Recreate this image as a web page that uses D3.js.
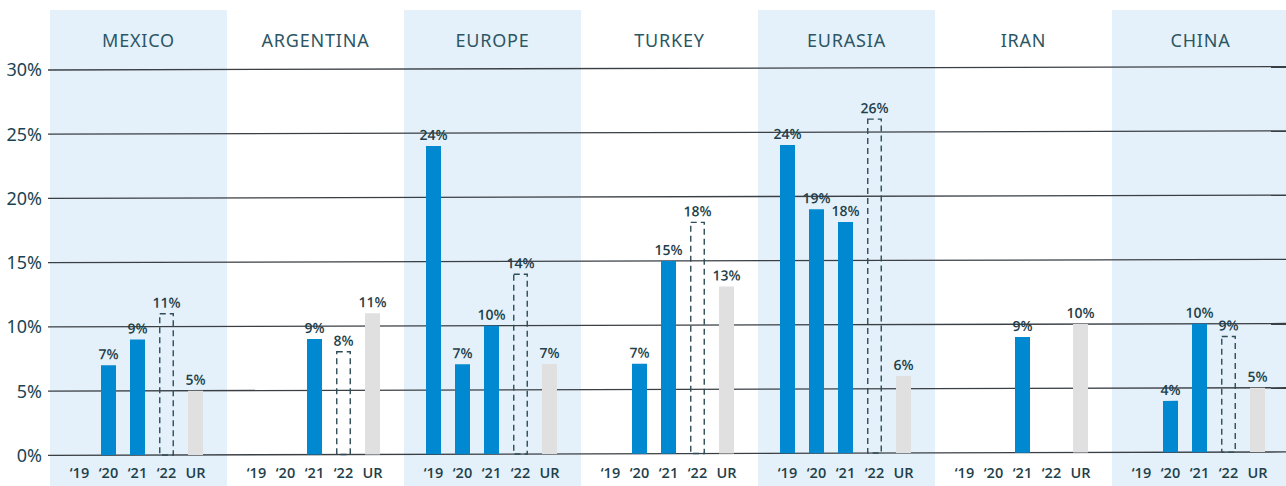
<!DOCTYPE html>
<html>
<head>
<meta charset="utf-8">
<script src="https://cdn.jsdelivr.net/npm/d3@7"></script>
<style>
  body { margin: 0; background: #fff; }
  svg { display: block; }
</style>
</head>
<body>
<div id="chart"></div>
<script>
// data
var regions = ["MEXICO", "ARGENTINA", "EUROPE", "TURKEY", "EURASIA", "IRAN", "CHINA"];
var years = ["\u201819", "\u201820", "\u201821", "\u201822", "UR"];
var v2019 = [null, null, 24, null, 24, null, null];
var v2020 = [7, null, 7, 7, 19, null, 4];
var v2021 = [9, 9, 10, 15, 18, 9, 10];
var v2022 = [11, 8, 14, 18, 26, null, 9];   // dashed (forecast)
var vUR   = [5, 11, 7, 13, 6, 10, 5];
var yTicks = [0, 5, 10, 15, 20, 25, 30];

function init() {
    var w = 1286, h = 486;
    var left = 48, panelX = 50, panelW = 177;
    var barW = 15;

    var svg = d3.select("#chart").append("svg")
        .attr("width", w)
        .attr("height", h);

    // group bands
    var x0 = d3.scaleBand()
        .domain(regions)
        .range([panelX, panelX + panelW * regions.length])
        .padding(0);

    // slot centres inside a group
    var x1 = d3.scalePoint()
        .domain(years)
        .range([29.5, 145.5]);

    var y = d3.scaleLinear().domain([0, 30]).range([455.3, 70]);

    // light blue panels on every other region
    svg.selectAll("rect.panel")
        .data(regions.filter(function(d, i) { return i % 2 === 0; }))
        .enter().append("rect")
        .attr("class", "panel")
        .attr("x", function(d) { return x0(d); })
        .attr("y", 10)
        .attr("width", x0.bandwidth())
        .attr("height", h - 10)
        .attr("fill", "#e4f1fa");

    // region titles
    svg.selectAll("text.region")
        .data(regions)
        .enter().append("text")
        .attr("class", "region")
        .attr("x", function(d) { return x0(d) + x0.bandwidth() / 2; })
        .attr("y", 47)
        .attr("text-anchor", "middle")
        .attr("font-family", "'Noto Sans', sans-serif")
        .attr("font-size", 18)
        .attr("letter-spacing", 0.8)
        .attr("fill", "#2c5664")
        .text(function(d) { return d; });

    // y labels
    svg.selectAll("text.ylab")
        .data(yTicks)
        .enter().append("text")
        .attr("class", "ylab")
        .attr("x", 42)
        .attr("y", function(d) { return y(d); })
        .attr("dy", "0.36em")
        .attr("text-anchor", "end")
        .attr("font-family", "'Noto Sans', sans-serif")
        .attr("font-size", 18)
        .attr("fill", "#1a4451")
        .text(function(d) { return d + "%"; });

    // plot body, very slightly tilted like the source
    var plot = svg.append("g")
        .attr("transform", "translate(" + left + ",0) skewY(-0.155) translate(" + (-left) + ",0)");

    plot.selectAll("line.grid")
        .data(yTicks)
        .enter().append("line")
        .attr("class", "grid")
        .attr("x1", left)
        .attr("x2", w + 10)
        .attr("y1", function(d) { return y(d); })
        .attr("y2", function(d) { return y(d); })
        .attr("stroke", "#3a3f44")
        .attr("stroke-width", 1.3);

    var series = [v2019, v2020, v2021, v2022, vUR];
    var bars = [];
    regions.forEach(function(r, ri) {
        years.forEach(function(yr, si) {
            var v = series[si][ri];
            if (v !== null) bars.push({ region: r, year: yr, si: si, value: v });
        });
    });

    var g = plot.selectAll("g.bar")
        .data(bars)
        .enter().append("g")
        .attr("class", "bar")
        .attr("transform", function(d) { return "translate(" + (x0(d.region) + x1(d.year)) + ",0)"; });

    g.append("rect")
        .attr("x", function(d) { return d.si === 3 ? -barW / 2 + 0.75 : -barW / 2; })
        .attr("y", function(d) { return y(d.value); })
        .attr("width", function(d) { return d.si === 3 ? barW - 1.5 : barW; })
        .attr("height", function(d) { return y(0) - y(d.value); })
        .attr("fill", function(d) {
            if (d.si === 3) return "none";
            if (d.si === 4) return "#e0e0e1";
            return "#0088d0";
        })
        .attr("stroke", function(d) { return d.si === 3 ? "#2e4c57" : "none"; })
        .attr("stroke-width", 1.4)
        .attr("stroke-dasharray", function(d) { return d.si === 3 ? "6,4" : null; });

    g.append("text")
        .attr("x", 0)
        .attr("y", function(d) { return y(d.value) - 6; })
        .attr("text-anchor", "middle")
        .attr("font-family", "'Open Sans', sans-serif")
        .attr("font-size", 14)
        .attr("font-weight", 600)
        .attr("fill", "#1f3f4a")
        .text(function(d) { return d.value + "%"; });

    // year labels under each group
    var ticks = [];
    regions.forEach(function(r) {
        years.forEach(function(yr) { ticks.push({ region: r, year: yr }); });
    });

    svg.selectAll("text.year")
        .data(ticks)
        .enter().append("text")
        .attr("class", "year")
        .attr("x", function(d) { return x0(d.region) + x1(d.year); })
        .attr("y", 478)
        .attr("text-anchor", "middle")
        .attr("font-family", "'Open Sans', sans-serif")
        .attr("font-size", 14.5)
        .attr("font-weight", 600)
        .attr("fill", "#1f3f4a")
        .text(function(d) { return d.year; });
}

window.onload = init;
</script>
</body>
</html>
